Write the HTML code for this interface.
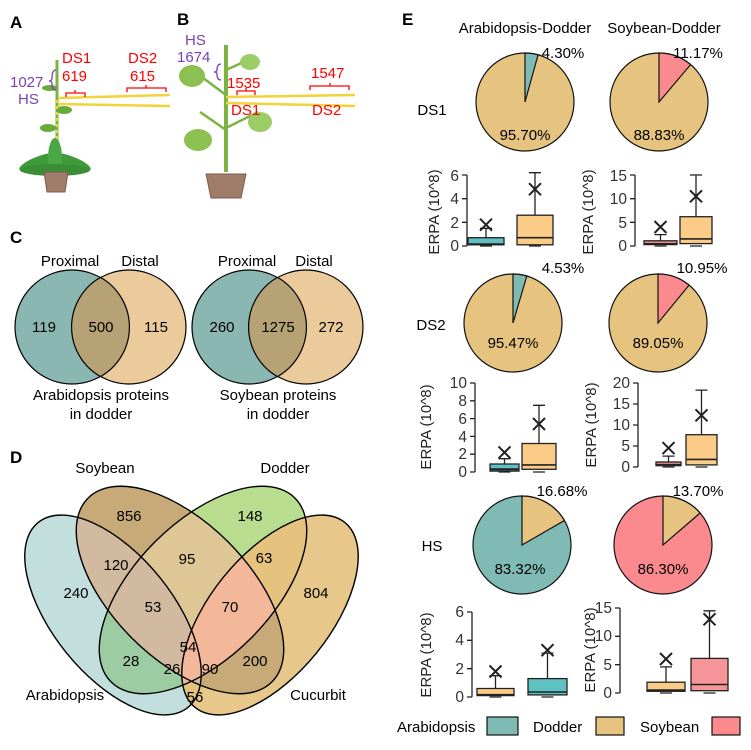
<!DOCTYPE html>
<html><head><meta charset="utf-8"><style>
html,body{margin:0;padding:0;background:#fff;}
svg{display:block;font-family:"Liberation Sans",Arial,sans-serif;}
</style></head><body>
<svg width="751" height="750" viewBox="0 0 751 750" xmlns="http://www.w3.org/2000/svg" xmlns:xlink="http://www.w3.org/1999/xlink">
<defs>
<ellipse id="eA" cx="113" cy="615" rx="119" ry="60" transform="rotate(51 113 615)"/>
<ellipse id="eS" cx="180" cy="590" rx="130" ry="68" transform="rotate(45 180 590)"/>
<ellipse id="eD" cx="203" cy="590" rx="130" ry="68" transform="rotate(-45 203 590)"/>
<ellipse id="eC" cx="270" cy="615" rx="119" ry="60" transform="rotate(-51 270 615)"/>
<clipPath id="cA"><use xlink:href="#eA"/></clipPath>
<clipPath id="cS"><use xlink:href="#eS"/></clipPath>
<clipPath id="cD"><use xlink:href="#eD"/></clipPath>
<clipPath id="cC"><use xlink:href="#eC"/></clipPath>
</defs>
<g font-weight="bold" font-size="17" fill="#000">
<text x="10" y="28">A</text><text x="177" y="25">B</text><text x="10" y="243">C</text><text x="10" y="463">D</text><text x="402" y="25">E</text>
</g>
<!-- Plant A -->
<g>
<line x1="57" y1="60" x2="57" y2="172" stroke="#7cb342" stroke-width="3"/>
<ellipse cx="50" cy="88" rx="8" ry="3" fill="#6aaa3a"/>
<ellipse cx="64" cy="110" rx="8" ry="4" fill="#6aaa3a"/>
<ellipse cx="48" cy="128" rx="8" ry="4" fill="#6aaa3a"/>
<ellipse cx="40" cy="162" rx="22" ry="6" fill="#3f9a3a" transform="rotate(-20 40 162)"/>
<ellipse cx="70" cy="162" rx="22" ry="6" fill="#3f9a3a" transform="rotate(20 70 162)"/>
<ellipse cx="55" cy="158" rx="7" ry="20" fill="#4aa844"/>
<ellipse cx="55" cy="170" rx="35" ry="6" fill="#3a8f36"/>
<path d="M44 172 L68 172 L65 192 L47 192 Z" fill="#a07d6a" stroke="#7a5c4c"/>
<path d="M58 98 L170 95 M58 104 L170 106" stroke="#f2d33a" stroke-width="2.5" fill="none"/>
<path d="M57 100 L57 140" stroke="#f2d33a" stroke-width="2" stroke-dasharray="3 3"/>
</g>
<!-- Plant B -->
<g>
<line x1="226" y1="45" x2="226" y2="172" stroke="#7cb342" stroke-width="4"/>
<path d="M226 130 L200 112 M226 95 L195 72 M226 70 L248 60 M226 128 L258 112" stroke="#7cb342" stroke-width="2.5"/>
<ellipse cx="192" cy="76" rx="13" ry="11" fill="#8cc152"/>
<ellipse cx="198" cy="140" rx="14" ry="11" fill="#8cc152"/>
<ellipse cx="250" cy="62" rx="10" ry="8" fill="#9ccc65"/>
<ellipse cx="260" cy="122" rx="12" ry="10" fill="#9ccc65"/>
<path d="M206 174 L246 174 L241 198 L211 198 Z" fill="#a07d6a" stroke="#7a5c4c"/>
<path d="M226 97 L355 95 M226 103 L355 106" stroke="#f2d33a" stroke-width="2.5" fill="none"/>
</g>
<g font-size="15">
<text x="62" y="63" fill="#f00">DS1</text><text x="62" y="81" fill="#f00">619</text>
<text x="128" y="63" fill="#f00">DS2</text><text x="130" y="81" fill="#f00">615</text>
<text x="10" y="87" fill="#7b3fb5">1027</text><text x="18" y="104" fill="#7b3fb5">HS</text>
<text x="185" y="45" fill="#7b3fb5">HS</text><text x="177" y="62" fill="#7b3fb5">1674</text>
<text x="227" y="88" fill="#f00">1535</text><text x="231" y="115" fill="#f00">DS1</text>
<text x="311" y="78" fill="#f00">1547</text><text x="312" y="115" fill="#f00">DS2</text>
</g>
<g fill="none" stroke-width="1.3">
<path d="M66 97 L66 93 L85 93 L85 97 M75 93 L75 90" stroke="#f00"/>
<path d="M127 92 L127 88 L166 88 L166 92 M146 88 L146 85" stroke="#f00"/>
<path d="M237 95 L237 91 L255 91 L255 95 M246 91 L246 88" stroke="#f00"/>
<path d="M310 90 L310 86 L349 86 L349 90 M330 86 L330 83" stroke="#f00"/>
<path d="M56 70 Q52 70 52 78 Q52 81 49 81 Q52 81 52 84 Q52 90 56 90" stroke="#7b3fb5"/>
<path d="M221 64 Q217 64 217 70 Q217 72 214 72 Q217 72 217 74 Q217 80 221 80" stroke="#7b3fb5"/>
</g>
<!-- Venn C -->
<g stroke="#000" stroke-width="1.2">
<circle cx="72" cy="327" r="57" fill="#8ab7b2"/>
<circle cx="129" cy="327" r="57" fill="#ebca9b"/>
<path d="M100.5 277.4 A57 57 0 0 1 100.5 376.6 A57 57 0 0 1 100.5 277.4 Z" fill="#b6a274"/>
<circle cx="249" cy="327" r="57" fill="#8ab7b2"/>
<circle cx="306" cy="327" r="57" fill="#ebca9b"/>
<path d="M277.5 277.4 A57 57 0 0 1 277.5 376.6 A57 57 0 0 1 277.5 277.4 Z" fill="#b6a274"/>
</g>
<g font-size="15" text-anchor="middle">
<text x="70" y="266">Proximal</text><text x="140" y="266">Distal</text>
<text x="247" y="266">Proximal</text><text x="314" y="266">Distal</text>
<text x="44" y="332">119</text><text x="101" y="332">500</text><text x="156" y="332">115</text>
<text x="222" y="332">260</text><text x="278" y="332">1275</text><text x="331" y="332">272</text>
<text x="101" y="400">Arabidopsis proteins</text><text x="101" y="419">in dodder</text>
<text x="278" y="400">Soybean proteins</text><text x="278" y="419">in dodder</text>
</g>
<!-- Venn D -->
<use xlink:href="#eA" fill="#c3dfdd"/>
<use xlink:href="#eC" fill="#e8c88a"/>
<use xlink:href="#eS" fill="#c8aa78"/>
<use xlink:href="#eD" fill="#b8dd8e"/>
<g clip-path="url(#cA)"><use xlink:href="#eC" fill="#e4c17e"/></g>
<g clip-path="url(#cA)"><use xlink:href="#eD" fill="#9dcba2"/></g>
<g clip-path="url(#cS)"><use xlink:href="#eD" fill="#dfc795"/></g>
<g clip-path="url(#cS)"><use xlink:href="#eA" fill="#d2baa0"/></g>
<g clip-path="url(#cD)"><use xlink:href="#eC" fill="#e5c37f"/></g>
<g clip-path="url(#cD)"><g clip-path="url(#cS)"><use xlink:href="#eC" fill="#f2b899"/></g></g>
<g clip-path="url(#cD)"><g clip-path="url(#cA)"><use xlink:href="#eC" fill="#f2b899"/></g></g>
<g fill="none" stroke="#000" stroke-width="1.4">
<use xlink:href="#eA"/><use xlink:href="#eS"/><use xlink:href="#eD"/><use xlink:href="#eC"/>
</g>
<g font-size="15" text-anchor="middle">
<text x="105" y="473">Soybean</text><text x="285" y="473">Dodder</text>
<text x="65" y="700">Arabidopsis</text><text x="318" y="700">Cucurbit</text>
<text x="129" y="521">856</text><text x="250" y="521">148</text>
<text x="116" y="570">120</text><text x="187" y="564">95</text><text x="264" y="563">63</text>
<text x="76" y="598">240</text><text x="153" y="612">53</text><text x="230" y="612">70</text><text x="316" y="598">804</text>
<text x="188" y="652">54</text><text x="131" y="666">28</text><text x="255" y="666">200</text>
<text x="172" y="674">26</text><text x="210" y="674">90</text><text x="195" y="702">56</text>
</g>
<g font-size="15" text-anchor="middle">
<text x="525" y="33">Arabidopsis-Dodder</text><text x="664" y="33">Soybean-Dodder</text>
<text x="432" y="115">DS1</text><text x="431" y="330">DS2</text><text x="432" y="551">HS</text>
</g>
<g stroke="#111" stroke-width="1.2">
<circle cx="525" cy="102" r="49" fill="#e6c47f"/><path d="M525 102 L525 53 A49 49 0 0 1 538.1 54.8 Z" fill="#80bab5"/>
<circle cx="659" cy="102" r="49" fill="#e6c47f"/><path d="M659 102 L659 53 A49 49 0 0 1 690.6 64.6 Z" fill="#fb8a8e"/>
<circle cx="513" cy="323" r="49" fill="#e6c47f"/><path d="M513 323 L513 274 A49 49 0 0 1 526.8 276 Z" fill="#80bab5"/>
<circle cx="658" cy="323" r="49" fill="#e6c47f"/><path d="M658 323 L658 274 A49 49 0 0 1 689.1 285.1 Z" fill="#fb8a8e"/>
<circle cx="522" cy="545" r="49" fill="#80bab5"/><path d="M522 545 L522 496 A49 49 0 0 1 564.4 520.5 Z" fill="#e6c47f"/>
<circle cx="663" cy="545" r="49" fill="#fb8a8e"/><path d="M663 545 L663 496 A49 49 0 0 1 700.1 513 Z" fill="#e6c47f"/>
</g>
<g font-size="15" text-anchor="middle">
<text x="563" y="58">4.30%</text><text x="525" y="140">95.70%</text>
<text x="698" y="58">11.17%</text><text x="659" y="140">88.83%</text>
<text x="563" y="273">4.53%</text><text x="513" y="348">95.47%</text>
<text x="702" y="273">10.95%</text><text x="658" y="348">89.05%</text>
<text x="562" y="496">16.68%</text><text x="520" y="574">83.32%</text>
<text x="698" y="496">13.70%</text><text x="663" y="574">86.30%</text>
</g>
<g stroke="#222" stroke-width="1.3" fill="none">
<path d="M467 175 L467 246 M462 246 L467 246 M462 222.3 L467 222.3 M462 198.7 L467 198.7 M462 175 L467 175"/>
<path d="M486 237.7 L486 228.3 M480 228.3 L492 228.3 M480 246 L492 246 M486 244.8 L486 246"/>
<rect x="468" y="237.7" width="36" height="7.1" fill="#5fc1c1"/><path d="M468 244.2 L504 244.2" stroke-width="2"/>
<path d="M480 218.7 L492 230.7 M492 218.7 L480 230.7" stroke-width="2"/>
<path d="M535 215.2 L535 172.7 M529 172.7 L541 172.7 M529 246 L541 246 M535 244.8 L535 246"/>
<rect x="517" y="215.2" width="36" height="29.6" fill="#fbcb88"/><path d="M517 237.7 L553 237.7" stroke-width="1.6"/>
<path d="M529 183.2 L541 195.2 M541 183.2 L529 195.2" stroke-width="2"/>
<path d="M635 175 L635 246 M630 246 L635 246 M630 222.3 L635 222.3 M630 198.7 L635 198.7 M630 175 L635 175"/>
<path d="M660.5 240.8 L660.5 234.6 M654.5 234.6 L666.5 234.6 M654.5 246 L666.5 246"/>
<rect x="644" y="240.8" width="33" height="3.8" fill="#f38b8f"/><path d="M644 243.6 L677 243.6"/>
<path d="M654.5 221 L666.5 233 M666.5 221 L654.5 233" stroke-width="2"/>
<path d="M696 216.7 L696 175 M690 175 L702 175 M690 246 L702 246"/>
<rect x="680" y="216.7" width="32" height="26.9" fill="#fbcb88"/><path d="M680 238.9 L712 238.9" stroke-width="1.6"/>
<path d="M690 190.3 L702 202.3 M702 190.3 L690 202.3" stroke-width="2"/>
<path d="M475 383 L475 472 M470 472 L475 472 M470 454.2 L475 454.2 M470 436.4 L475 436.4 M470 418.6 L475 418.6 M470 400.8 L475 400.8 M470 383 L475 383"/>
<path d="M504.5 464 L504.5 458.7 M498.5 458.7 L510.5 458.7 M498.5 472 L510.5 472"/>
<rect x="490" y="464" width="29" height="7.1" fill="#5fc1c1"/><path d="M490 469.3 L519 469.3" stroke-width="2"/>
<path d="M498.5 446.4 L510.5 458.4 M510.5 446.4 L498.5 458.4" stroke-width="2"/>
<path d="M539 443.5 L539 405.3 M533 405.3 L545 405.3 M533 472 L545 472"/>
<rect x="522" y="443.5" width="34" height="25.8" fill="#fbcb88"/><path d="M522 464.9 L556 464.9" stroke-width="1.6"/>
<path d="M533 418 L545 430 M545 418 L533 430" stroke-width="2"/>
<path d="M638 383 L638 467 M633 467 L638 467 M633 446 L638 446 M633 425 L638 425 M633 404 L638 404 M633 383 L638 383"/>
<path d="M668.5 462 L668.5 456.1 M662.5 456.1 L674.5 456.1 M662.5 467 L674.5 467"/>
<rect x="656" y="462" width="25" height="3.7" fill="#f38b8f"/><path d="M656 464.5 L681 464.5"/>
<path d="M662.5 442.1 L674.5 454.1 M674.5 442.1 L662.5 454.1" stroke-width="2"/>
<path d="M701.5 434.7 L701.5 390.1 M695.5 390.1 L707.5 390.1 M695.5 467 L707.5 467"/>
<rect x="686" y="434.7" width="31" height="30.2" fill="#fbcb88"/><path d="M686 459.4 L717 459.4" stroke-width="1.6"/>
<path d="M695.5 409.3 L707.5 421.3 M707.5 409.3 L695.5 421.3" stroke-width="2"/>
<path d="M472 612 L472 697 M467 697 L472 697 M467 668.7 L472 668.7 M467 640.3 L472 640.3 M467 612 L472 612"/>
<path d="M495.5 688.5 L495.5 675.7 M489.5 675.7 L501.5 675.7 M489.5 697 L501.5 697"/>
<rect x="477" y="688.5" width="37" height="7.1" fill="#fbcb88"/><path d="M477 694.9 L514 694.9" stroke-width="2"/>
<path d="M489.5 665.5 L501.5 677.5 M501.5 665.5 L489.5 677.5" stroke-width="2"/>
<path d="M547.5 678.6 L547.5 653.1 M541.5 653.1 L553.5 653.1 M541.5 697 L553.5 697"/>
<rect x="528" y="678.6" width="39" height="16.3" fill="#5fc1c1"/><path d="M528 692 L567 692" stroke-width="1.6"/>
<path d="M541.5 644.2 L553.5 656.2 M553.5 644.2 L541.5 656.2" stroke-width="2"/>
<path d="M620 608 L620 693 M615 693 L620 693 M615 664.7 L620 664.7 M615 636.3 L620 636.3 M615 608 L620 608"/>
<path d="M666 682.2 L666 666.9 M660 666.9 L672 666.9 M660 693 L672 693"/>
<rect x="647" y="682.2" width="38" height="9.1" fill="#fbcb88"/><path d="M647 690.2 L685 690.2" stroke-width="2"/>
<path d="M660 653 L672 665 M672 653 L660 665" stroke-width="2"/>
<path d="M709.5 658.4 L709.5 610.8 M703.5 610.8 L715.5 610.8 M703.5 693 L715.5 693"/>
<rect x="691" y="658.4" width="37" height="32.3" fill="#f7969a"/><path d="M691 684.5 L728 684.5" stroke-width="1.6"/>
<path d="M703.5 613.3 L715.5 625.3 M715.5 613.3 L703.5 625.3" stroke-width="2"/>
</g>
<g font-size="15.5" text-anchor="end" fill="#333">
<text x="459" y="251">0</text><text x="459" y="228">2</text><text x="459" y="204">4</text><text x="459" y="181">6</text>
<text x="627" y="251">0</text><text x="627" y="228">5</text><text x="627" y="204">10</text><text x="627" y="181">15</text>
<text x="467" y="477">0</text><text x="467" y="459">2</text><text x="467" y="442">4</text><text x="467" y="424">6</text><text x="467" y="406">8</text><text x="467" y="388">10</text>
<text x="630" y="472">0</text><text x="630" y="451">5</text><text x="630" y="430">10</text><text x="630" y="409">15</text><text x="630" y="388">20</text>
<text x="464" y="702">0</text><text x="464" y="674">2</text><text x="464" y="645">4</text><text x="464" y="617">6</text>
<text x="612" y="698">0</text><text x="612" y="670">5</text><text x="612" y="641">10</text><text x="612" y="613">15</text>
</g>
<g font-size="15" text-anchor="middle" fill="#222">
<text transform="translate(439 212) rotate(-90)">ERPA (10^8)</text>
<text transform="translate(593 212) rotate(-90)">ERPA (10^8)</text>
<text transform="translate(431 427) rotate(-90)">ERPA (10^8)</text>
<text transform="translate(596 425) rotate(-90)">ERPA (10^8)</text>
<text transform="translate(431 655) rotate(-90)">ERPA (10^8)</text>
<text transform="translate(595 650) rotate(-90)">ERPA (10^8)</text>
</g>
<g font-size="15">
<text x="397" y="732">Arabidopsis</text><rect x="487" y="717" width="31" height="18" fill="#80bab5" stroke="#111" stroke-width="1.2"/>
<text x="533" y="732">Dodder</text><rect x="596" y="717" width="28" height="18" fill="#e6c47f" stroke="#111" stroke-width="1.2"/>
<text x="640" y="732">Soybean</text><rect x="712" y="717" width="28" height="18" fill="#fb8a8e" stroke="#111" stroke-width="1.2"/>
</g>
</svg>
</body></html>
